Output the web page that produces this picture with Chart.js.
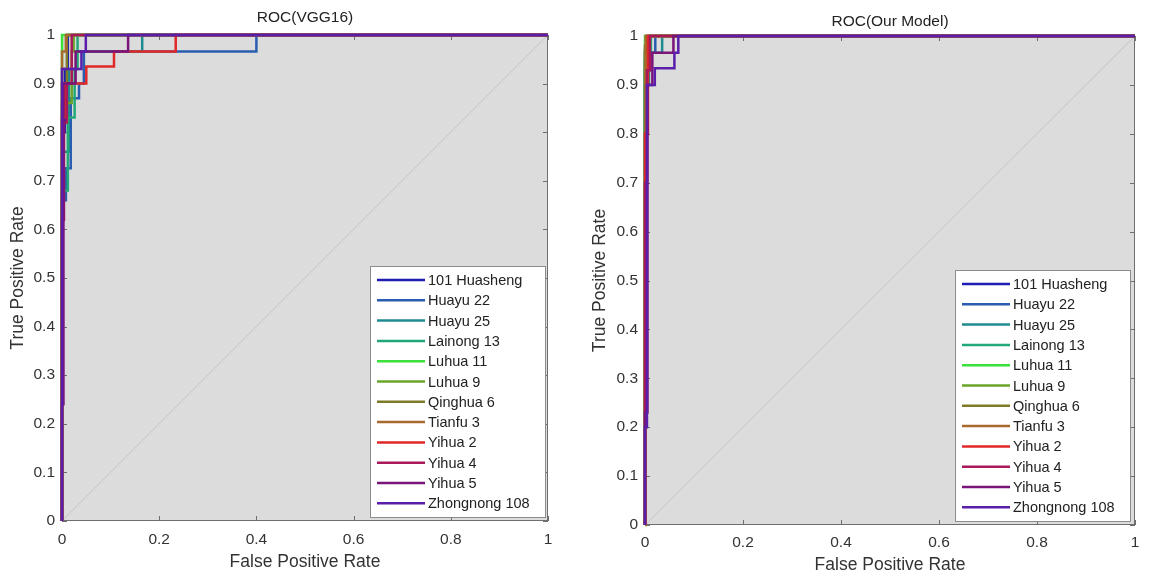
<!DOCTYPE html>
<html>
<head>
<meta charset="utf-8">
<script src="https://cdn.jsdelivr.net/npm/chart.js@4/dist/chart.umd.min.js"></script>
<style>
body{margin:0;background:#fff;width:1152px;height:576px;position:relative;overflow:hidden}
canvas{position:absolute;top:0}
</style>
</head>
<body>
<canvas id="left" width="576" height="576" style="left:0"></canvas>
<canvas id="right" width="576" height="576" style="left:576px"></canvas>
<script>
// class names, in legend order
const varieties = ['101 Huasheng','Huayu 22','Huayu 25','Lainong 13','Luhua 11','Luhua 9','Qinghua 6','Tianfu 3','Yihua 2','Yihua 4','Yihua 5','Zhongnong 108']
const colors = ['#1e1eb4','#2a5db0','#1f8a8f','#22a878','#3ce03c','#6aa52a','#7e7a28','#a86a2c','#e02828','#a8185a','#7a1478','#5a1eaa']

const xTicks = [0,0.2,0.4,0.6,0.8,1]
const yTicks = [0,0.1,0.2,0.3,0.4,0.5,0.6,0.7,0.8,0.9,1]
const diagonal = [[0,0],[1,1]]

// ROC points [FPR, TPR]
const vggRoc = [
  [[0,0],[0,0.8],[0.006,0.8],[0.006,0.93],[0.012,0.93],[0.012,1],[1,1]],
  [[0,0],[0,0.66],[0.008,0.66],[0.008,0.726],[0.018,0.726],[0.018,0.87],[0.035,0.87],[0.035,0.9],[0.045,0.9],[0.045,0.966],[0.4,0.966],[0.4,1],[1,1]],
  [[0,0],[0,0.76],[0.014,0.76],[0.014,0.93],[0.03,0.93],[0.03,0.966],[0.165,0.966],[0.165,1],[1,1]],
  [[0,0],[0,0.68],[0.012,0.68],[0.012,0.83],[0.026,0.83],[0.026,0.93],[0.032,0.93],[0.032,1],[1,1]],
  [[0,0],[0,1],[1,1]],
  [[0,0],[0,0.86],[0.02,0.86],[0.02,0.966],[0.024,0.966],[0.024,1],[1,1]],
  [[0,0],[0,0.9],[0.01,0.9],[0.01,1],[1,1]],
  [[0,0],[0,0.966],[0.008,0.966],[0.008,1],[1,1]],
  [[0,0],[0,0.83],[0.006,0.83],[0.006,0.9],[0.05,0.9],[0.05,0.935],[0.107,0.935],[0.107,0.966],[0.234,0.966],[0.234,1],[1,1]],
  [[0,0],[0,0.62],[0.004,0.62],[0.004,0.82],[0.01,0.82],[0.01,0.9],[0.02,0.9],[0.02,1],[1,1]],
  [[0,0],[0,0.24],[0.003,0.24],[0.003,0.9],[0.028,0.9],[0.028,0.966],[0.136,0.966],[0.136,1],[1,1]],
  [[0,0],[0,0.93],[0.04,0.93],[0.04,0.966],[0.049,0.966],[0.049,1],[1,1]]
]

const ourRoc = [
  [[0,0],[0,0.97],[0.004,0.97],[0.004,1],[1,1]],
  [[0,0],[0,0.93],[0.01,0.93],[0.01,0.966],[0.021,0.966],[0.021,1],[1,1]],
  [[0,0],[0,0.9],[0.008,0.9],[0.008,0.966],[0.035,0.966],[0.035,1],[1,1]],
  [[0,0],[0,0.95],[0.012,0.95],[0.012,1],[1,1]],
  [[0,0],[0,1],[1,1]],
  [[0,0],[0,0.966],[0.006,0.966],[0.006,1],[1,1]],
  [[0,0],[0,0.98],[0.003,0.98],[0.003,1],[1,1]],
  [[0,0],[0,0.97],[0.002,0.97],[0.002,1],[1,1]],
  [[0,0],[0,0.8],[0.006,0.8],[0.006,1],[1,1]],
  [[0,0],[0,0.7],[0.004,0.7],[0.004,0.93],[0.01,0.93],[0.01,1],[1,1]],
  [[0,0],[0,0.23],[0.005,0.23],[0.005,0.9],[0.015,0.9],[0.015,0.966],[0.058,0.966],[0.058,1],[1,1]],
  [[0,0],[0,0.2],[0.004,0.2],[0.004,0.9],[0.02,0.9],[0.02,0.934],[0.06,0.934],[0.06,0.966],[0.068,0.966],[0.068,1],[1,1]]
]

const FONT = "'Liberation Sans', Arial, sans-serif"

// grey axes background, box with inward ticks, legend box inside the axes
const rocFrame = {
  id: 'rocFrame',
  beforeDraw(chart) {
    const a = chart.chartArea, ctx = chart.ctx
    ctx.save()
    ctx.fillStyle = '#dcdcdc'
    ctx.fillRect(a.left, a.top, a.right - a.left, a.bottom - a.top)
    ctx.restore()
  },
  beforeDatasetsDraw(chart) {
    const a = chart.chartArea, ctx = chart.ctx
    const xs = chart.scales.x, ys = chart.scales.y
    ctx.save()
    ctx.strokeStyle = '#6e6e6e'
    ctx.lineWidth = 1
    ctx.strokeRect(a.left + 0.5, a.top + 0.5, a.right - a.left - 1, a.bottom - a.top - 1)
    ctx.beginPath()
    xs.ticks.forEach(t => {
      const px = Math.round(xs.getPixelForValue(t.value)) + 0.5
      ctx.moveTo(px, a.bottom); ctx.lineTo(px, a.bottom - 5)
      ctx.moveTo(px, a.top); ctx.lineTo(px, a.top + 5)
    })
    ys.ticks.forEach(t => {
      const py = Math.round(ys.getPixelForValue(t.value)) + 0.5
      ctx.moveTo(a.left, py); ctx.lineTo(a.left + 5, py)
      ctx.moveTo(a.right, py); ctx.lineTo(a.right - 5, py)
    })
    ctx.stroke()
    ctx.restore()
  },
  afterDraw(chart, args, opts) {
    const a = chart.chartArea, ctx = chart.ctx
    const items = chart.data.datasets.filter(d => d.label)
    const w = 175, h = 251
    const x0 = a.right - opts.gapRight - w, y0 = a.bottom - opts.gapBottom - h
    ctx.save()
    ctx.fillStyle = '#fff'
    ctx.fillRect(x0, y0, w, h)
    ctx.strokeStyle = '#8c8c8c'
    ctx.lineWidth = 1
    ctx.strokeRect(x0 + 0.5, y0 + 0.5, w, h)
    ctx.font = '14.5px ' + FONT
    ctx.textBaseline = 'middle'
    ctx.fillStyle = '#222'
    items.forEach((d, i) => {
      const y = y0 + 14 + i * 20.3
      ctx.strokeStyle = d.borderColor
      ctx.lineWidth = 2.5
      ctx.beginPath()
      ctx.moveTo(x0 + 7, y); ctx.lineTo(x0 + 55, y)
      ctx.stroke()
      ctx.fillText(d.label, x0 + 58, y + 1)
    })
    ctx.restore()
  }
}

const tickText = v => String(+v.toFixed(1))

function makeRoc(id, title, curves, lay) {
  const datasets = curves.map((pts, i) => ({
    label: varieties[i],
    data: pts.map(p => ({x: p[0], y: p[1]})),
    borderColor: colors[i],
    borderWidth: 2.5,
    pointRadius: 0,
    fill: false,
    clip: false,
    order: curves.length - i   // later classes drawn on top, like plot() in MATLAB
  }))
  datasets.push({
    label: '',
    data: diagonal.map(p => ({x: p[0], y: p[1]})),
    borderColor: '#c6c6c6',
    borderWidth: 1,
    pointRadius: 0,
    order: 100
  })

  return new Chart(document.getElementById(id), {
    type: 'line',
    data: {datasets},
    plugins: [rocFrame],
    options: {
      responsive: false,
      animation: false,
      events: [],
      layout: {padding: {left: 0, right: lay.padRight, top: 0, bottom: 0}},
      plugins: {
        legend: {display: false},
        tooltip: {enabled: false},
        title: {
          display: true,
          text: title,
          fullSize: false,
          color: '#222',
          font: {family: FONT, size: 15.5, weight: 'normal'},
          padding: {top: lay.titleTop, bottom: lay.titleBottom}
        },
        rocFrame: {gapRight: lay.legRight, gapBottom: 4}
      },
      scales: {
        x: {
          type: 'linear', min: 0, max: 1,
          grid: {display: false, drawTicks: false},
          border: {display: false},
          afterBuildTicks: s => { s.ticks = xTicks.map(v => ({value: v})) },
          afterFit: s => { s.height = lay.xHeight },
          ticks: {color: '#333', padding: lay.xTickPad, font: {family: FONT, size: 15.5}, callback: tickText},
          title: {display: true, text: 'False Positive Rate', color: '#333',
                  font: {family: FONT, size: 17.5}, padding: {top: 0, bottom: lay.xTitlePad}}
        },
        y: {
          type: 'linear', min: 0, max: 1,
          grid: {display: false, drawTicks: false},
          border: {display: false},
          afterBuildTicks: s => { s.ticks = yTicks.map(v => ({value: v})) },
          afterFit: s => { s.width = lay.yWidth },
          ticks: {color: '#333', padding: 7, font: {family: FONT, size: 15.5}, callback: tickText},
          title: {display: true, text: 'True Positive Rate', color: '#333',
                  font: {family: FONT, size: 17.5}, padding: {top: lay.yTitlePad, bottom: 0}}
        }
      }
    }
  })
}

makeRoc('left', 'ROC(VGG16)', vggRoc,
  {padRight: 28, titleTop: 8.7, titleBottom: 7.7, xHeight: 55, yWidth: 62, xTickPad: 9.7, xTitlePad: 3.8, yTitlePad: 7.5, legRight: 3})
makeRoc('right', 'ROC(Our Model)', ourRoc,
  {padRight: 17, titleTop: 12.7, titleBottom: 4.7, xHeight: 51, yWidth: 69, xTickPad: 8.7, xTitlePad: 0, yTitlePad: 13.5, legRight: 5})
</script>
</body>
</html>
